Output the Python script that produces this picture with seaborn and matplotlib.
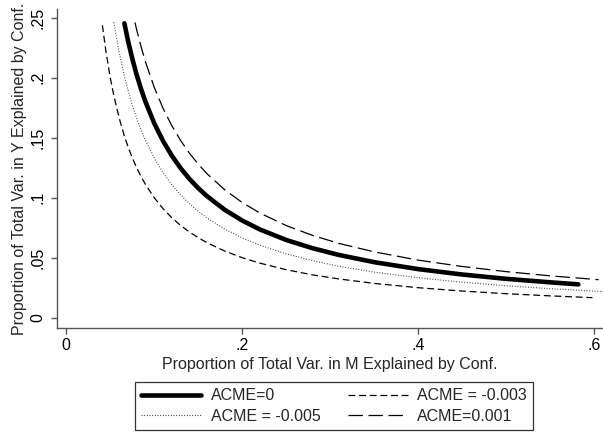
import matplotlib
matplotlib.use("Agg")
import matplotlib.pyplot as plt
import seaborn as sns
import pandas as pd

# ---- data ----
x_acme0 = [0.066, 0.07, 0.075, 0.08, 0.085, 0.09, 0.1, 0.11, 0.12, 0.13, 0.14, 0.15, 0.16,
           0.18, 0.2, 0.22, 0.25, 0.28, 0.31, 0.35, 0.4, 0.45, 0.5, 0.55, 0.582]
y_acme0 = [0.2455, 0.2314, 0.2160, 0.2025, 0.1906, 0.1800, 0.1620, 0.1473, 0.1350, 0.1246,
           0.1157, 0.1080, 0.1013, 0.0900, 0.0810, 0.0736, 0.0648, 0.0579, 0.0523, 0.0463,
           0.0405, 0.0360, 0.0324, 0.0295, 0.0278]

x_acme_m003 = [0.041, 0.045, 0.05, 0.054, 0.06, 0.066, 0.07, 0.075, 0.08, 0.085, 0.09, 0.1,
               0.11, 0.12, 0.13, 0.14, 0.15, 0.16, 0.18, 0.2, 0.22, 0.25, 0.28, 0.31, 0.35,
               0.4, 0.45, 0.5, 0.55, 0.598]
y_acme_m003 = [0.2439, 0.2222, 0.2000, 0.1852, 0.1667, 0.1515, 0.1429, 0.1333, 0.1250, 0.1176,
               0.1111, 0.1000, 0.0909, 0.0833, 0.0769, 0.0714, 0.0667, 0.0625, 0.0556, 0.0500,
               0.0455, 0.0400, 0.0357, 0.0323, 0.0286, 0.0250, 0.0222, 0.0200, 0.0182, 0.0167]

x_acme_m005 = [0.054, 0.06, 0.066, 0.07, 0.075, 0.08, 0.085, 0.09, 0.1, 0.11, 0.12, 0.13, 0.14,
               0.15, 0.16, 0.18, 0.2, 0.22, 0.25, 0.28, 0.31, 0.35, 0.4, 0.45, 0.5, 0.55, 0.61]
y_acme_m005 = [0.2463, 0.2217, 0.2015, 0.1900, 0.1773, 0.1663, 0.1565, 0.1478, 0.1330, 0.1209,
               0.1108, 0.1023, 0.0950, 0.0887, 0.0831, 0.0739, 0.0665, 0.0605, 0.0532, 0.0475,
               0.0429, 0.0380, 0.0333, 0.0296, 0.0266, 0.0242, 0.0218]

x_acme_p001 = [0.078, 0.08, 0.085, 0.09, 0.1, 0.11, 0.12, 0.13, 0.14, 0.15, 0.16, 0.18, 0.2,
               0.22, 0.25, 0.28, 0.31, 0.35, 0.4, 0.45, 0.5, 0.55, 0.605]
y_acme_p001 = [0.2462, 0.2400, 0.2259, 0.2133, 0.1920, 0.1745, 0.1600, 0.1477, 0.1371, 0.1280,
               0.1200, 0.1067, 0.0960, 0.0873, 0.0768, 0.0686, 0.0619, 0.0549, 0.0480, 0.0427,
               0.0384, 0.0349, 0.0317]

labels = ["ACME=0", "ACME = -0.005", "ACME = -0.003", "ACME=0.001"]
x_ticks = [0, 0.2, 0.4, 0.6]
x_ticklabels = ["0", ".2", ".4", ".6"]
y_ticks = [0, 0.05, 0.1, 0.15, 0.2, 0.25]
y_ticklabels = ["0", ".05", ".1", ".15", ".2", ".25"]

FS = 11.5

sns.set_theme(style="ticks")
plt.rcParams["font.family"] = ["Liberation Sans", "DejaVu Sans"]
plt.rcParams["font.size"] = FS

fig = plt.figure(figsize=(6.03, 4.36), dpi=100)
ax = fig.add_axes([0.0945, 0.2477, 0.9055, 0.7313])

axis_col = "#555555"

sns.lineplot(x=x_acme0, y=y_acme0, ax=ax, color="black", linewidth=3.3,
             sort=False, estimator=None, label=labels[0])
sns.lineplot(x=x_acme_m005, y=y_acme_m005, ax=ax, color="#333333", linewidth=0.8,
             linestyle=(0, (0.8, 1.6)), sort=False, estimator=None, label=labels[1])
sns.lineplot(x=x_acme_m003, y=y_acme_m003, ax=ax, color="black", linewidth=0.9,
             linestyle=(0, (5.5, 3.0)), sort=False, estimator=None, label=labels[2])
sns.lineplot(x=x_acme_p001, y=y_acme_p001, ax=ax, color="black", linewidth=0.9,
             linestyle=(0, (11.5, 4.5)), sort=False, estimator=None, label=labels[3])

ax.set_xlim(-0.0106, 0.61)
ax.set_ylim(-0.0086, 0.2573)
ax.set_xticks(x_ticks)
ax.set_xticklabels(x_ticklabels)
ax.set_yticks(y_ticks)
ax.set_yticklabels(y_ticklabels, rotation=90, va="center")

for side in ["top", "right"]:
    ax.spines[side].set_visible(False)
for side in ["left", "bottom"]:
    ax.spines[side].set_color(axis_col)
    ax.spines[side].set_linewidth(1.0)
ax.tick_params(axis="x", colors=axis_col, labelcolor="black", length=4,
               width=1.0, labelsize=FS, direction="out", pad=3)
ax.tick_params(axis="y", colors=axis_col, labelcolor="black", length=4,
               width=1.0, labelsize=FS, direction="out", pad=4)

ax.set_xlabel("Proportion of Total Var. in M Explained by Conf.", fontsize=FS, labelpad=3)
ax.set_ylabel("Proportion of Total Var. in Y Explained by Conf.", fontsize=FS, labelpad=3)

handles, labs = ax.get_legend_handles_labels()
ax.get_legend().remove()
leg = fig.legend(handles, labs, loc="center", bbox_to_anchor=(0.554, 0.069), ncol=2,
                 frameon=True, fancybox=False, shadow=False, fontsize=FS,
                 handlelength=3.75, handletextpad=0.6, columnspacing=1.7,
                 borderpad=0.4, labelspacing=0.35)
leg.get_frame().set_edgecolor("black")
leg.get_frame().set_linewidth(0.9)

fig.savefig("out.png", dpi=100)
